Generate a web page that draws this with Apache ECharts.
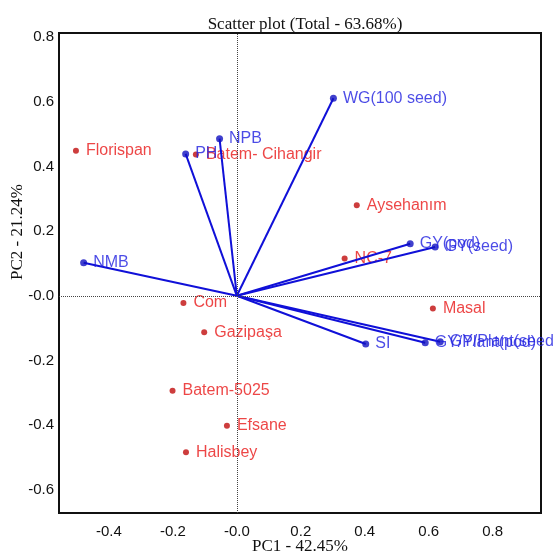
<!DOCTYPE html>
<html>
<head>
<meta charset="utf-8">
<script src="https://cdn.jsdelivr.net/npm/echarts@6/dist/echarts.min.js"></script>
<style>
  html, body { margin: 0; padding: 0; background: #fff; }
  #chart { width: 554px; height: 551px; }
</style>
</head>
<body>
<div id="chart"></div>
<script>
// genotypes (red points)
var genoNames = ["Florispan", "Batem- Cihangir", "Aysehanım", "NC-7", "Masal", "Com", "Gazipaşa", "Batem-5025", "Efsane", "Halisbey"];
var genoX = [-0.503, -0.128, 0.375, 0.337, 0.613, -0.167, -0.102, -0.201, -0.031, -0.159];
var genoY = [0.449, 0.437, 0.280, 0.115, -0.039, -0.022, -0.113, -0.294, -0.402, -0.484];

// traits (blue vectors from origin)
var traitNames = ["WG(100 seed)", "NPB", "PH", "NMB", "GY(pod)", "GY(seed)", "SI", "GY/Plant(pod)", "GY/Plant(seed)"];
var traitX = [0.302, -0.054, -0.160, -0.479, 0.542, 0.620, 0.403, 0.589, 0.636];
var traitY = [0.611, 0.486, 0.439, 0.102, 0.161, 0.151, -0.149, -0.145, -0.142];

var xTicks = [-0.4, -0.2, 0, 0.2, 0.4, 0.6, 0.8];
var yTicks = [-0.6, -0.4, -0.2, 0, 0.2, 0.4, 0.6, 0.8];

var chart = echarts.init(document.getElementById("chart"));

function tickFmt(v) {
  if (Math.abs(v) < 1e-9) return "-0.0";
  return v.toFixed(1);
}

var genoData = genoNames.map(function (n, i) {
  return { name: n, value: [genoX[i], genoY[i]] };
});
var traitData = traitNames.map(function (n, i) {
  return { name: n, value: [traitX[i], traitY[i]] };
});
var vectorData = traitNames.map(function (n, i) {
  return { coords: [[0, 0], [traitX[i], traitY[i]]] };
});

var sans = "Liberation Sans, Arial, sans-serif";
var serif = "Liberation Serif, Times New Roman, serif";

var option = {
  animation: false,
  title: {
    text: "Scatter plot (Total - 63.68%)",
    left: 300,
    textAlign: "center",
    top: 11,
    textStyle: { fontFamily: serif, fontSize: 17, fontWeight: "normal", color: "#111" }
  },
  grid: {
    left: 59, right: 13, top: 33, bottom: 38,
    outerBoundsMode: "none",
    containLabel: false,
    show: true, borderColor: "#111", borderWidth: 2, backgroundColor: "transparent"
  },
  xAxis: {
    type: "value",
    min: -0.556,
    max: 0.951,
    name: "PC1 - 42.45%",
    nameLocation: "middle",
    nameGap: 25,
    nameMoveOverlap: false,
    nameTextStyle: { fontFamily: serif, fontSize: 17, color: "#111" },
    axisLine: { show: false },
    axisTick: { show: false },
    splitLine: { show: false },
    axisLabel: {
      customValues: xTicks,
      formatter: tickFmt,
      margin: 11,
      color: "#111",
      fontFamily: sans,
      fontSize: 15
    }
  },
  yAxis: {
    type: "value",
    min: -0.672,
    max: 0.813,
    axisLine: { show: false },
    axisTick: { show: false },
    splitLine: { show: false },
    axisLabel: {
      customValues: yTicks,
      formatter: tickFmt,
      margin: 5,
      color: "#111",
      fontFamily: sans,
      fontSize: 15
    }
  },
  graphic: [{
    type: "text",
    x: 18,
    y: 232,
    rotation: Math.PI / 2,
    style: {
      text: "PC2 - 21.24%",
      font: "17px 'Liberation Serif', 'Times New Roman', serif",
      fill: "#111",
      align: "center",
      verticalAlign: "middle"
    }
  }],
  series: [
    {
      type: "scatter",
      name: "genotypes",
      data: genoData,
      symbolSize: 6,
      itemStyle: { color: "#c00d0d" },
      label: {
        show: true,
        position: "right",
        distance: 7,
        formatter: "{b}",
        color: "#e81818",
        fontFamily: sans,
        fontSize: 16
      },
      markLine: {
        silent: true,
        symbol: ["none", "none"],
        label: { show: false },
        lineStyle: { type: "dotted", color: "#444", width: 1 },
        data: [{ xAxis: 0 }, { yAxis: 0 }]
      },
      z: 2
    },
    {
      type: "lines",
      coordinateSystem: "cartesian2d",
      data: vectorData,
      lineStyle: { color: "#1010d8", width: 2, opacity: 1 },
      z: 3
    },
    {
      type: "scatter",
      name: "traits",
      data: traitData,
      symbolSize: 7,
      itemStyle: { color: "#1010c0" },
      label: {
        show: true,
        position: "right",
        distance: 6,
        formatter: "{b}",
        color: "#1e1ee0",
        fontFamily: sans,
        fontSize: 16
      },
      z: 4
    }
  ]
};

chart.setOption(option);
</script>
</body>
</html>
